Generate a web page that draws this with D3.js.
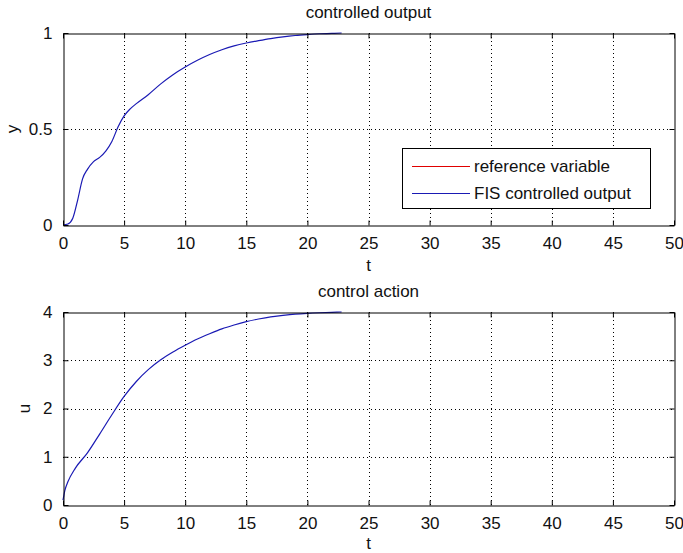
<!DOCTYPE html>
<html>
<head>
<meta charset="utf-8">
<script src="https://cdn.jsdelivr.net/npm/d3@7"></script>
<style>
  html, body { margin: 0; padding: 0; background: #fff; }
  svg { display: block; font-family: "Liberation Sans", Arial, sans-serif; }
  text { fill: #111; }
</style>
</head>
<body>
<svg id="fig" width="683" height="553"></svg>
<script>
// Simulation time samples and responses of the FIS controlled plant
const tOutput = [0, 0.4, 0.8, 1.2, 1.6, 2, 2.5, 3, 3.5, 4, 4.5, 5, 5.5, 6, 7, 8, 9, 10, 11, 12, 13, 14, 15, 16, 17, 18, 19, 20, 21, 22, 22.8];
const yOutput = [0, 0.005, 0.035, 0.13, 0.24, 0.29, 0.33, 0.352, 0.385, 0.435, 0.51, 0.568, 0.605, 0.632, 0.68, 0.735, 0.783, 0.823, 0.858, 0.888, 0.913, 0.933, 0.948, 0.96, 0.971, 0.98, 0.987, 0.992, 0.996, 0.998, 1.0];

const tAction = [0, 0.15, 0.4, 1, 2, 3, 4, 5, 6, 7, 8, 9, 10, 11, 12, 13, 14, 15, 16, 17, 18, 19, 20, 21, 22, 22.8];
const uAction = [0.1, 0.3, 0.48, 0.76, 1.08, 1.47, 1.87, 2.25, 2.56, 2.81, 3.01, 3.17, 3.31, 3.44, 3.55, 3.65, 3.73, 3.8, 3.855, 3.9, 3.93, 3.955, 3.972, 3.984, 3.993, 4.0];

const xTicks = [0, 5, 10, 15, 20, 25, 30, 35, 40, 45, 50];
const yTicksTop = [0, 0.5, 1];
const yTicksBottom = [0, 1, 2, 3, 4];
const legendLabels = ["reference variable", "FIS controlled output"];
const legendColors = ["#e00000", "#1a1ab4"];

const svg = d3.select("#fig");
const FONT = 17;
const LINE_COLOR = "#1a1ab4";

function panel(cfg) {
  const { top, bottom, left, right, yDomain, yTicks, yFmt, title, ylabel, ylabelX, titleY, tLabelY, t, v } = cfg;
  const x = d3.scaleLinear().domain([0, 50]).range([left, right]);
  const y = d3.scaleLinear().domain(yDomain).range([bottom, top]);
  const g = svg.append("g");

  // dotted grid
  g.append("g").selectAll("line").data(xTicks.slice(1, -1)).join("line")
    .attr("x1", d => Math.round(x(d)) + 0.5).attr("x2", d => Math.round(x(d)) + 0.5)
    .attr("y1", top).attr("y2", bottom)
    .attr("stroke", "#000").attr("stroke-width", 1).attr("stroke-dasharray", "1,3");
  g.append("g").selectAll("line").data(yTicks.slice(1, -1)).join("line")
    .attr("y1", d => Math.round(y(d)) + 0.5).attr("y2", d => Math.round(y(d)) + 0.5)
    .attr("x1", left).attr("x2", right)
    .attr("stroke", "#000").attr("stroke-width", 1).attr("stroke-dasharray", "1,3");

  // data line
  const line = d3.line().curve(d3.curveMonotoneX).x((d, i) => x(t[i])).y(d => y(d));
  g.append("path").datum(v).attr("d", line)
    .attr("fill", "none").attr("stroke", LINE_COLOR).attr("stroke-width", 1.2);

  // axes with inward ticks on all four sides
  const tickLen = 5;
  g.append("g").attr("transform", `translate(0,${bottom + 0.5})`)
    .call(d3.axisBottom(x).tickValues(xTicks).tickSizeInner(-tickLen).tickSizeOuter(0).tickPadding(11))
    .call(a => a.select(".domain").attr("stroke", "#000"));
  g.append("g").attr("transform", `translate(0,${top + 0.5})`)
    .call(d3.axisTop(x).tickValues(xTicks).tickSizeInner(-tickLen).tickSizeOuter(0).tickFormat(""))
    .call(a => a.select(".domain").attr("stroke", "#000"));
  g.append("g").attr("transform", `translate(${left + 0.5},0)`)
    .call(d3.axisLeft(y).tickValues(yTicks).tickSizeInner(-tickLen).tickSizeOuter(0).tickPadding(11).tickFormat(yFmt))
    .call(a => a.select(".domain").attr("stroke", "#000"));
  g.append("g").attr("transform", `translate(${right + 0.5},0)`)
    .call(d3.axisRight(y).tickValues(yTicks).tickSizeInner(-tickLen).tickSizeOuter(0).tickFormat(""))
    .call(a => a.select(".domain").attr("stroke", "#000"));
  g.selectAll(".tick line").attr("stroke", "#000");
  g.selectAll(".tick text").attr("font-size", FONT).attr("font-family", "Liberation Sans, Arial, sans-serif").attr("fill", "#111");

  // labels
  g.append("text").attr("x", (left + right) / 2).attr("y", titleY)
    .attr("text-anchor", "middle").attr("font-size", FONT).text(title);
  g.append("text").attr("x", (left + right) / 2).attr("y", tLabelY)
    .attr("text-anchor", "middle").attr("font-size", FONT).text("t");
  g.append("text").attr("transform", `translate(${ylabelX},${(top + bottom) / 2}) rotate(-90)`)
    .attr("text-anchor", "middle").attr("font-size", FONT).text(ylabel);
  return { x, y };
}

panel({
  top: 33, bottom: 225, left: 63, right: 674,
  yDomain: [0, 1], yTicks: yTicksTop, yFmt: d3.format("~g"),
  title: "controlled output", ylabel: "y", ylabelX: 18, titleY: 18, tLabelY: 271,
  t: tOutput, v: yOutput
});

panel({
  top: 312, bottom: 505, left: 63, right: 674,
  yDomain: [0, 4], yTicks: yTicksBottom, yFmt: d3.format("d"),
  title: "control action", ylabel: "u", ylabelX: 30, titleY: 297, tLabelY: 549,
  t: tAction, v: uAction
});

// legend
const lg = svg.append("g");
lg.append("rect").attr("x", 402.5).attr("y", 148.5).attr("width", 248).attr("height", 60)
  .attr("fill", "#fff").attr("stroke", "#000").attr("stroke-width", 1);
const rows = lg.selectAll("g.row").data(legendLabels).join("g").attr("class", "row")
  .attr("transform", (d, i) => `translate(0,${166 + i * 27})`);
rows.append("line").attr("x1", 412).attr("x2", 470).attr("y1", 0.5).attr("y2", 0.5)
  .attr("stroke", (d, i) => legendColors[i]).attr("stroke-width", 1.2);
rows.append("text").attr("x", 474).attr("y", 6).attr("font-size", FONT).text(d => d);
</script>
</body>
</html>
